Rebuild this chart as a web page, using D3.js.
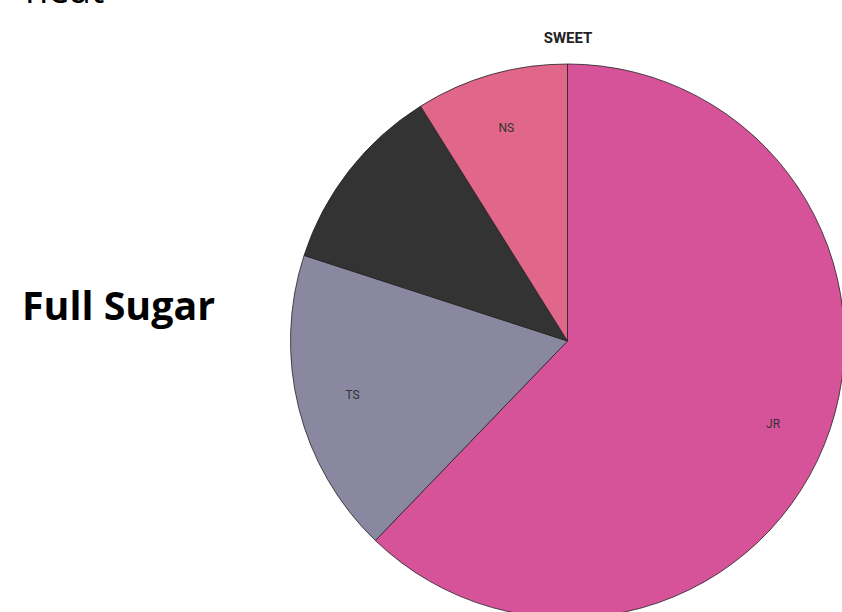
<!DOCTYPE html>
<meta charset="utf-8">
<head>
  <meta charset="UTF-8" />
  <title>Sweet pie</title>
  <script src="https://d3js.org/d3.v7.min.js"></script>
</head>
<style>
  body { margin: 0; background: #fff; }
</style>
<div id="my_dataviz"></div>
<script>
  // slice data, clockwise from 12 o'clock
  var categories = ["JR", "TS", "OT", "NS"]
  var values = [62.2, 17.8, 11.1, 8.9]
  var showLabel = [true, true, false, true]
  var colors = ["#d6539a", "#8a88a0", "#333333", "#e0668a"]

  var width = 842, height = 612
  var cx = 567.5, cy = 341, radius = 277

  var svg = d3.select("#my_dataviz")
    .append("svg")
      .attr("width", width)
      .attr("height", height)

  // left hand captions (the top one is cut by the page edge, as in the source)
  svg.append("text")
    .attr("x", 25)
    .attr("y", 3)
    .style("font-family", "'Open Sans', sans-serif")
    .style("font-size", "38px")
    .style("fill", "#000")
    .text("neat")

  svg.append("text")
    .attr("x", 22)
    .attr("y", 320)
    .attr("textLength", 193)
    .attr("lengthAdjust", "spacingAndGlyphs")
    .style("font-family", "'Open Sans', sans-serif")
    .style("font-weight", "bold")
    .style("font-size", "39px")
    .style("fill", "#000")
    .text("Full Sugar")

  // title
  svg.append("text")
    .attr("x", 568)
    .attr("y", 43)
    .attr("text-anchor", "middle")
    .style("font-family", "Roboto, sans-serif")
    .style("font-weight", "bold")
    .style("font-size", "15px")
    .style("fill", "#222")
    .text("SWEET")

  var data = categories.map((c, i) => ({name: c, value: values[i], color: colors[i], label: showLabel[i]}))

  var pie = d3.pie().sort(null).value(d => d.value)
  var arc = d3.arc().innerRadius(0).outerRadius(radius)
  var labelArc = d3.arc().innerRadius(radius * 0.8).outerRadius(radius * 0.8)

  var g = svg.append("g")
    .attr("transform", "translate(" + cx + "," + cy + ")")

  g.selectAll("path.slice")
    .data(pie(data))
    .join("path")
      .attr("class", "slice")
      .attr("d", arc)
      .style("fill", d => d.data.color)
      .style("stroke", "#222")
      .style("stroke-width", 0.8)

  g.selectAll("text.lbl")
    .data(pie(data).filter(d => d.data.label))
    .join("text")
      .attr("class", "lbl")
      .attr("transform", d => "translate(" + labelArc.centroid(d) + ")")
      .attr("text-anchor", "middle")
      .attr("dy", "0.35em")
      .style("font-family", "Roboto, sans-serif")
      .style("font-size", "12px")
      .style("fill", "#333")
      .text(d => d.data.name)
</script>
